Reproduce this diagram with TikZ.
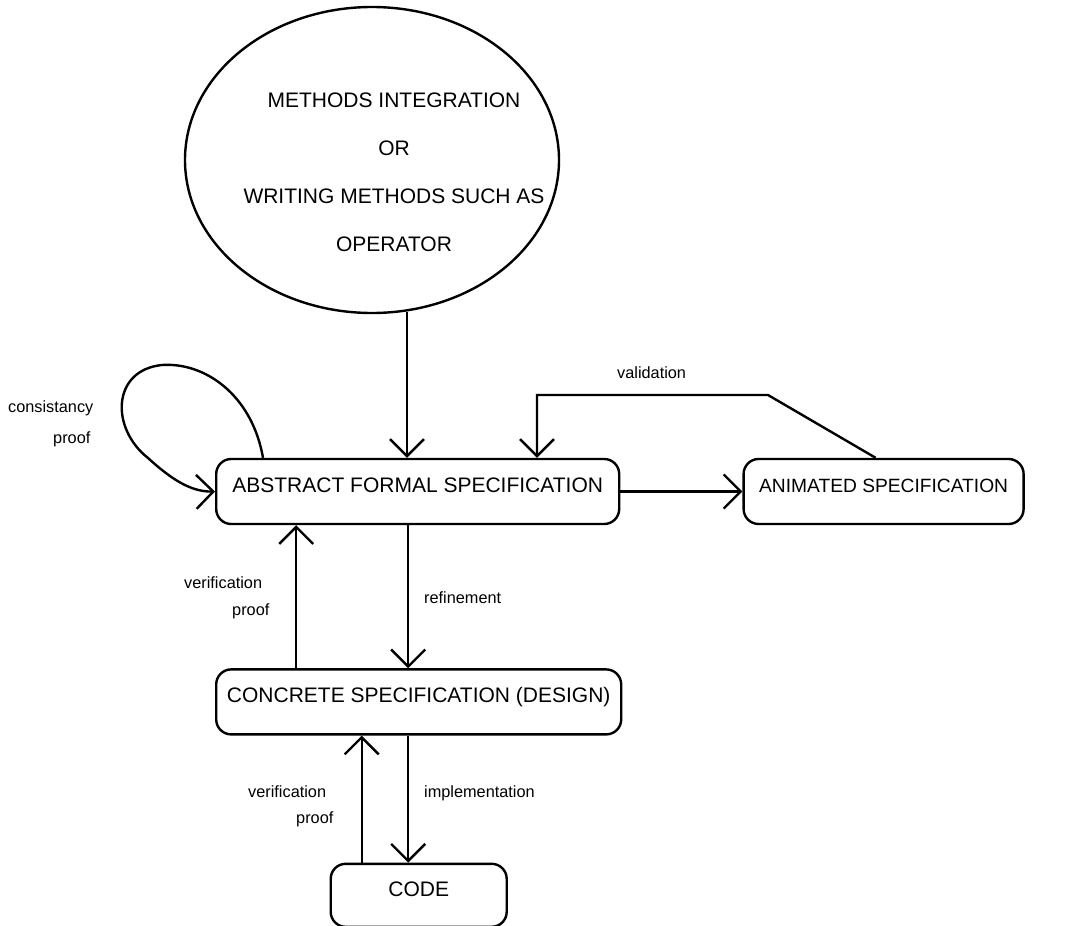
\documentclass[tikz,border=0pt]{standalone}
\usepackage{fontspec}
\setmainfont{Liberation Sans}
\usetikzlibrary{positioning,shapes.geometric,arrows.meta,calc}

\begin{document}
\begin{tikzpicture}[x=1pt,y=-1pt,
  line width=2.4pt,
  >={Straight Barb[length=17pt,width=34pt]},
  bigtxt/.style={font=\fontsize{21}{25}\selectfont},
  lbl/.style={font=\fontsize{16.3}{19}\selectfont,inner sep=0pt,anchor=base west},
  spec/.style={draw,rounded corners=15pt,bigtxt,inner xsep=0pt,inner ysep=0pt,
               text height=33pt,text depth=32pt,align=center},
  ]
\useasboundingbox (0,0) rectangle (1069,926);

% ================= methods ellipse =================
\node[ellipse,draw,minimum width=374pt,minimum height=306pt,inner sep=0pt] (meth) at (372,160) {};
\node[font=\fontsize{21}{48}\selectfont,align=center,inner sep=0pt] (methtxt) at (394,172)
  {METHODS INTEGRATION\\OR\\WRITING METHODS SUCH AS\\OPERATOR};

% ================= specifications =================
\node[spec,minimum width=403pt,anchor=west] (abs) at (215,491.5) {ABSTRACT FORMAL SPECIFICATION};
\node[spec,minimum width=280pt,right=122pt of abs,font=\fontsize{19.2}{23}\selectfont]
  (anim) {ANIMATED SPECIFICATION};
\node[spec,minimum width=405pt,below=143pt of abs.south west,anchor=north west]
  (conc) {CONCRETE SPECIFICATION (DESIGN)};
\node[spec,minimum width=176pt,text depth=30pt,below=127pt of conc] (code) {CODE};

% ---- methods -> abstract ----
\draw[->] (meth.-77) -- (meth.-77 |- abs.north);

% ---- consistancy loop ----
\draw[->] ([xshift=48pt]abs.north west) .. controls (252,395) and (205,362) .. (162,365)
  .. controls (112,370) and (110,428) .. (148,458)
  .. controls (170,478) and (190,492) .. (abs.west);
\node[lbl] (cons1) at (7,412) {consistancy};
\node[lbl] (cons2) at (52,443) {proof};

% ---- animation + validation ----
\draw[->] (abs.east) -- (anim.west);
\coordinate (valR) at (768,395);
\coordinate (valL) at (537,395);
\draw[->] ([xshift=-8pt]anim.north) -- (valR) -- (valL) -- (valL |- abs.north);
\node[lbl] (val) at (616,378) {validation};

% ---- abstract <-> concrete ----
\draw[->] ([xshift=-9.5pt]abs.south) -- ([xshift=-9.5pt]abs.south |- conc.north);
\draw[->] ([xshift=-121.5pt]abs.south |- conc.north) -- ([xshift=-121.5pt]abs.south);
\node[lbl] (ref) at (423,603) {refinement};
\node[lbl] (ver1) at (183,588) {verification};
\node[lbl] (ver1b) at (231,615) {proof};

% ---- concrete <-> code ----
\draw[->] ([xshift=-10.5pt]conc.south) -- ([xshift=-10.5pt]conc.south |- code.north);
\draw[->] ([xshift=-57pt]code.north) -- ([xshift=-57pt]code.north |- conc.south);
\node[lbl] (impl) at (423,797) {implementation};
\node[lbl] (ver2) at (247,797) {verification};
\node[lbl] (ver2b) at (295,823) {proof};

\end{tikzpicture}
\end{document}
